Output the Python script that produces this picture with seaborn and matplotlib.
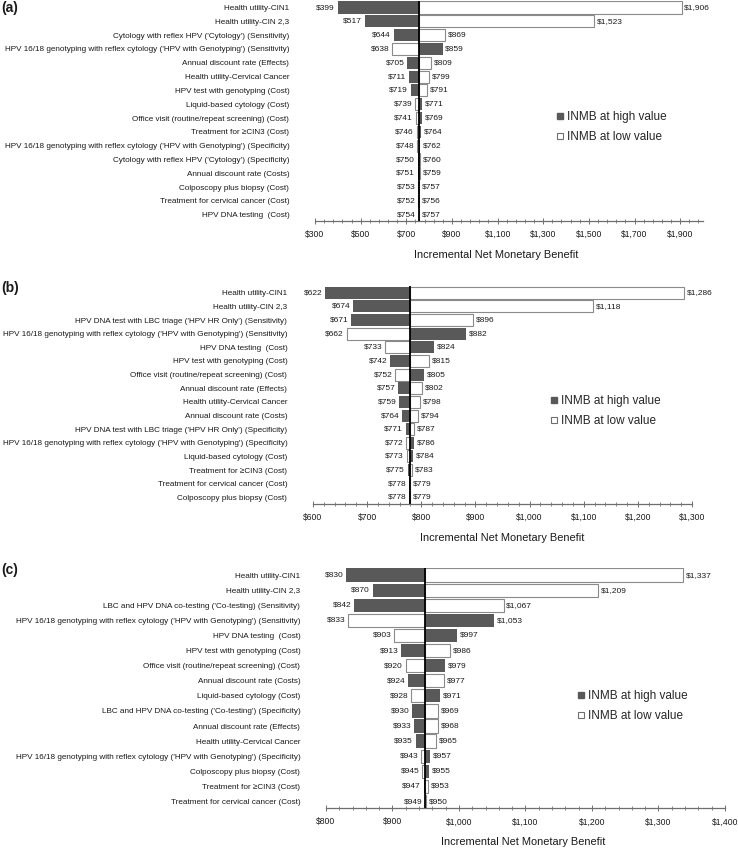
import matplotlib
matplotlib.use("Agg")
import matplotlib.pyplot as plt
from matplotlib.lines import Line2D
from matplotlib.ticker import FuncFormatter, MultipleLocator
import pandas as pd
import seaborn as sns

# ---- panel (a) ----
params_a = ["Health utility-CIN1", "Health utility-CIN 2,3",
            "Cytology with reflex HPV ('Cytology') (Sensitivity)",
            "HPV 16/18 genotyping with reflex cytology ('HPV with Genotyping') (Sensitivity)",
            "Annual discount rate (Effects)", "Health utility-Cervical Cancer",
            "HPV test with genotyping (Cost)", "Liquid-based cytology (Cost)",
            "Office visit (routine/repeat screening) (Cost)", "Treatment for \u2265CIN3 (Cost)",
            "HPV 16/18 genotyping with reflex cytology ('HPV with Genotyping') (Specificity)",
            "Cytology with reflex HPV ('Cytology') (Specificity)",
            "Annual discount rate (Costs)", "Colposcopy plus biopsy (Cost)",
            "Treatment for cervical cancer (Cost)", "HPV DNA testing  (Cost)"]
high_a = [399, 517, 644, 859, 705, 711, 719, 771, 769, 764, 762, 750, 751, 757, 756, 757]
low_a = [1906, 1523, 869, 638, 809, 799, 791, 739, 741, 746, 748, 760, 759, 753, 752, 754]
base_a = 755

# ---- panel (b) ----
params_b = ["Health utility-CIN1", "Health utility-CIN 2,3",
            "HPV DNA test with LBC triage ('HPV HR Only') (Sensitivity)",
            "HPV 16/18 genotyping with reflex cytology ('HPV with Genotyping') (Sensitivity)",
            "HPV DNA testing  (Cost)", "HPV test with genotyping (Cost)",
            "Office visit (routine/repeat screening) (Cost)", "Annual discount rate (Effects)",
            "Health utility-Cervical Cancer", "Annual discount rate (Costs)",
            "HPV DNA test with LBC triage ('HPV HR Only') (Specificity)",
            "HPV 16/18 genotyping with reflex cytology ('HPV with Genotyping') (Specificity)",
            "Liquid-based cytology (Cost)", "Treatment for \u2265CIN3 (Cost)",
            "Treatment for cervical cancer (Cost)", "Colposcopy plus biopsy (Cost)"]
high_b = [622, 674, 671, 882, 824, 742, 805, 757, 759, 764, 771, 786, 784, 775, 778, 778]
low_b = [1286, 1118, 896, 662, 733, 815, 752, 802, 798, 794, 787, 772, 773, 783, 779, 779]
base_b = 778.5

# ---- panel (c) ----
params_c = ["Health utility-CIN1", "Health utility-CIN 2,3",
            "LBC and HPV DNA co-testing ('Co-testing) (Sensitivity)",
            "HPV 16/18 genotyping with reflex cytology ('HPV with Genotyping') (Sensitivity)",
            "HPV DNA testing  (Cost)", "HPV test with genotyping (Cost)",
            "Office visit (routine/repeat screening) (Cost)", "Annual discount rate (Costs)",
            "Liquid-based cytology (Cost)",
            "LBC and HPV DNA co-testing ('Co-testing') (Specificity)",
            "Annual discount rate (Effects)", "Health utility-Cervical Cancer",
            "HPV 16/18 genotyping with reflex cytology ('HPV with Genotyping') (Specificity)",
            "Colposcopy plus biopsy (Cost)", "Treatment for \u2265CIN3 (Cost)",
            "Treatment for cervical cancer (Cost)"]
high_c = [830, 870, 842, 1053, 997, 913, 979, 924, 971, 930, 933, 935, 957, 955, 947, 949]
low_c = [1337, 1209, 1067, 833, 903, 986, 920, 977, 928, 969, 968, 965, 943, 945, 953, 950]
base_c = 949.5

sns.set_style("white")
plt.rcParams['font.family'] = ['Liberation Sans', 'DejaVu Sans']

W, H = 738, 848
DARK = '#595959'
TXT = '#1a1a1a'
fig = plt.figure(figsize=(W / 100, H / 100), dpi=100)

# pixel layout: left, right, top, bottom of axes; xlim; major step; legend anchor;
# panel tag y; x-label centre (axes fraction)
panels = [
    ('(a)', params_a, high_a, low_a, base_a, (315, 703, 0.6, 221), (300, 2000), 200, (556, 127), 8, 0.468),
    ('(b)', params_b, high_b, low_b, base_b, (313, 692, 285.9, 503.5), (600, 1300), 100, (550, 411), 288, 0.5),
    ('(c)', params_c, high_c, low_c, base_c, (326, 725, 567.5, 808.3), (800, 1400), 100, (577, 706), 570, 0.495),
]

for tag, params, high, low, base, box, xlim, step, leg, tag_y, lab_x in panels:
    l, r, t, b = box
    ax = fig.add_axes([l / W, 1 - b / H, (r - l) / W, (b - t) / H])
    df = pd.DataFrame({'param': params, 'high': high, 'low': low})
    df['high_w'] = df['high'] - base
    df['low_w'] = df['low'] - base

    sns.barplot(data=df, x='low_w', y='param', orient='h', left=base, color='white',
                saturation=1, width=0.88, edgecolor='#8a8a8a', linewidth=0.8, ax=ax)
    sns.barplot(data=df, x='high_w', y='param', orient='h', left=base, color=DARK,
                saturation=1, width=0.88, linewidth=0, ax=ax)
    ax.axvline(base, color='black', lw=1.3, zorder=5)

    for i, (h, lo) in enumerate(zip(high, low)):
        lv, rv = min(h, lo), max(h, lo)
        ax.annotate(f"${lv:,}", (lv, i), xytext=(-2, 0), textcoords='offset points',
                    ha='right', va='center', fontsize=6, color=TXT)
        ax.annotate(f"${rv:,}", (rv, i), xytext=(2, 0), textcoords='offset points',
                    ha='left', va='center', fontsize=6, color=TXT)

    ax.set_ylim(15.45, -0.5)
    ax.set_xlim(*xlim)
    ax.xaxis.set_major_locator(MultipleLocator(step, offset=xlim[0] % step))
    ax.xaxis.set_minor_locator(MultipleLocator(step / 5, offset=xlim[0] % (step / 5)))
    ax.xaxis.set_major_formatter(FuncFormatter(lambda v, p: f"${v:,.0f}"))
    ax.tick_params(axis='x', which='major', direction='inout', length=4, width=0.6,
                   color='#595959', labelsize=6.2, labelcolor=TXT, pad=4.5, bottom=True)
    ax.tick_params(axis='x', which='minor', direction='inout', length=3, width=0.5,
                   color='#595959', bottom=True)
    ax.tick_params(axis='y', length=0, pad=18.5, labelsize=5.85, labelcolor=TXT)
    for s in ['top', 'right', 'left']:
        ax.spines[s].set_visible(False)
    ax.spines['bottom'].set_color('#6f6f6f')
    ax.spines['bottom'].set_linewidth(0.9)
    ax.set_ylabel('')
    ax.set_xlabel('Incremental Net Monetary Benefit', fontsize=7.9, color=TXT, labelpad=8)
    ax.xaxis.label.set_x(lab_x)

    handles = [Line2D([], [], ls='', marker='s', ms=5, mfc=DARK, mec=DARK),
               Line2D([], [], ls='', marker='s', ms=5, mfc='white', mec='#6f6f6f', mew=0.8)]
    fig.legend(handles, ['INMB at high value', 'INMB at low value'], loc='center left',
               bbox_to_anchor=(leg[0] / W, 1 - leg[1] / H), frameon=False, borderpad=0,
               borderaxespad=0, handlelength=0.6, handletextpad=0.3, labelspacing=0.68,
               prop={'size': 8.5})
    fig.text(1 / W, 1 - tag_y / H, tag, fontsize=10, fontweight='bold',
             va='center', ha='left', color=TXT)

fig.savefig('out.png', dpi=100)
